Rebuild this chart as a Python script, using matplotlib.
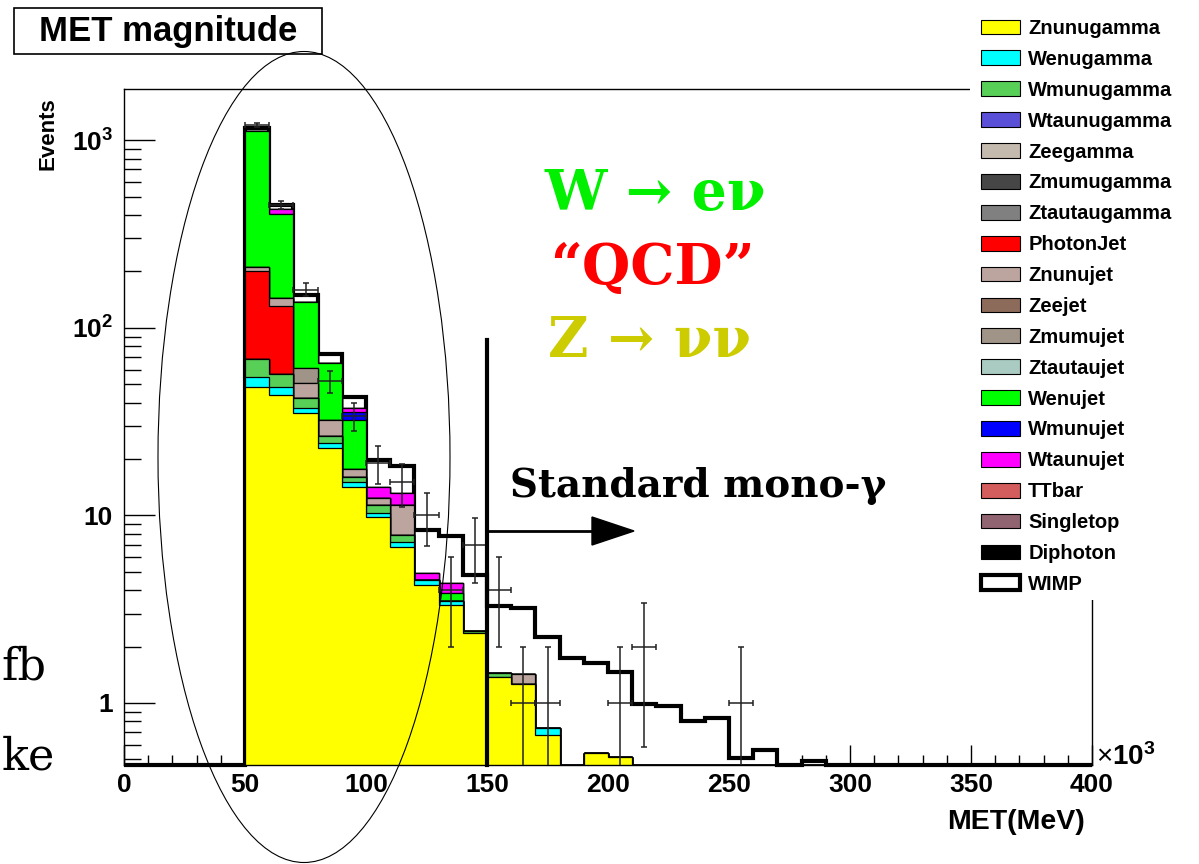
import numpy as np
import matplotlib.pyplot as plt
from matplotlib.patches import Patch, Rectangle, Ellipse, Polygon
from matplotlib.lines import Line2D
from matplotlib.ticker import MultipleLocator, LogLocator, FixedLocator, FixedFormatter, NullFormatter

plt.rcParams['mathtext.fontset'] = 'custom'
plt.rcParams['mathtext.rm'] = 'Liberation Sans:bold'
plt.rcParams['mathtext.it'] = 'Liberation Sans:bold'
plt.rcParams['mathtext.bf'] = 'Liberation Sans:bold'

W, H = 1199, 864

# MET bins in units of 10^3 MeV, 10 wide, values given from the 50-60 bin up to 290-300
bin_start = 50
bin_width = 10
x_max = 400

# stacked backgrounds (events per bin), bottom of the stack first
znunugamma = [48.6, 44.0, 35.1, 22.8, 14.2, 9.86, 6.82, 4.26, 3.33, 2.35, 1.38, 1.26, 0.675,
              0, 0.543, 0.517, 0, 0, 0, 0, 0, 0, 0, 0, 0]
wenugamma = [6.4, 4.6, 2.2, 1.5, 0.8, 0.44, 0.43, 0.27, 0.18, 0, 0, 0, 0.063,
             0, 0, 0, 0, 0, 0, 0, 0, 0, 0, 0, 0]
wmunugamma = [13.0, 7.9, 4.9, 2.2, 1.1, 1.1, 0.62, 0, 0, 0.08, 0.06, 0, 0,
              0, 0, 0, 0, 0, 0, 0, 0, 0, 0, 0, 0]
wtaunugamma = [0.0] * 25
zeegamma = [0.0] * 25
zmumugamma = [0.0] * 25
ztautaugamma = [0.0] * 25
photonjet = [132, 74.5, 0, 0, 0, 0, 0, 0, 0, 0, 0, 0, 0,
             0, 0, 0, 0, 0, 0, 0, 0, 0, 0, 0, 0]
znunujet = [11, 13, 8.5, 5.8, 1.7, 1.0, 3.5, 0, 0, 0, 0, 0.17, 0,
            0, 0, 0, 0, 0, 0, 0, 0, 0, 0, 0, 0]
zeejet = [0.0] * 25
zmumujet = [0, 0, 10.3, 0, 0, 0, 0, 0, 0, 0, 0, 0, 0,
            0, 0, 0, 0, 0, 0, 0, 0, 0, 0, 0, 0]
ztautaujet = [0.0] * 25
wenujet = [917, 261, 77, 32.7, 14.5, 0, 0, 0, 0.37, 0, 0, 0, 0,
           0, 0, 0, 0, 0, 0, 0, 0, 0, 0, 0, 0]
wmunujet = [0, 0, 0, 0, 3.5, 0, 0, 0, 0, 0, 0, 0, 0,
            0, 0, 0, 0, 0, 0, 0, 0, 0, 0, 0, 0]
wtaunujet = [0, 26, 0, 0, 1.5, 1.7, 1.8, 0.42, 0.47, 0, 0, 0, 0,
             0, 0, 0, 0, 0, 0, 0, 0, 0, 0, 0, 0]
ttbar = [0.0] * 25
singletop = [0.0] * 25
diphoton = [0.0] * 25
# signal, stacked on top
wimp = [37, 22, 12, 7.4, 5.7, 5.7, 5.2, 3.4, 3.4, 2.4, 1.85, 1.77, 1.52,
        1.73, 1.09, 0.95, 0.99, 0.96, 0.80, 0.83, 0.51, 0.56, 0, 0.49, 0]

# pseudo-data counts per bin (error = sqrt(n))
data = [1210, 453, 160, 52, 34, 19, 15, 10, 4, 7, 4, 1, 1,
        0, 0, 1, 2, 0, 0, 0, 1, 0, 0, 0, 0]

names = ['Znunugamma', 'Wenugamma', 'Wmunugamma', 'Wtaunugamma', 'Zeegamma', 'Zmumugamma',
         'Ztautaugamma', 'PhotonJet', 'Znunujet', 'Zeejet', 'Zmumujet', 'Ztautaujet',
         'Wenujet', 'Wmunujet', 'Wtaunujet', 'TTbar', 'Singletop', 'Diphoton', 'WIMP']
stack_values = [znunugamma, wenugamma, wmunugamma, wtaunugamma, zeegamma, zmumugamma,
                ztautaugamma, photonjet, znunujet, zeejet, zmumujet, ztautaujet,
                wenujet, wmunujet, wtaunujet, ttbar, singletop, diphoton, wimp]
colors = ['#ffff00', '#00ffff', '#58d058', '#5a50d8', '#c4baae', '#464646',
          '#808080', '#ff0000', '#bba59e', '#8c6b5b', '#a09488', '#a9cbc1',
          '#00ff00', '#0000ff', '#ff00ff', '#d35c5c', '#906470', '#000000', '#ffffff']


def fx(x):
    return x / W


def fy(y):
    return 1 - y / H


fig = plt.figure(figsize=(W / 100, H / 100), dpi=100)
ax = fig.add_axes([fx(124), fy(765), (1092 - 124) / W, (765 - 89) / H])
ax.set_yscale('log')
ymin, ymax = 0.467, 1880

edges = np.arange(0, x_max + bin_width, bin_width)
nb = len(edges) - 1
i0 = bin_start // bin_width


def full(v):
    out = np.zeros(nb)
    out[i0:i0 + len(v)] = v
    return out


layers = np.array([full(v) for v in stack_values])
tops = np.cumsum(layers, axis=0)

# ROOT-like stack: cumulative histograms drawn from the top one down
for k in range(len(names) - 1, -1, -1):
    is_sig = names[k] == 'WIMP'
    ax.stairs(np.maximum(tops[k], ymin), edges, baseline=ymin, fill=True,
              facecolor=colors[k], edgecolor='black',
              linewidth=3.0 if is_sig else 0.9, clip_on=not is_sig, zorder=2)

centers = edges[:-1] + bin_width / 2
n_all = full(data)
sel = n_all > 0
n = n_all[sel]
err = np.sqrt(n)
ax.errorbar(centers[sel], n, xerr=bin_width / 2, yerr=[err, err], fmt='none',
            ecolor='#222222', elinewidth=1.1, capsize=2.5, capthick=1.1, zorder=4)

ax.set_xlim(0, x_max)
ax.set_ylim(ymin, ymax)

tick_font = dict(family='Liberation Sans', weight='bold', size=19)
ax.xaxis.set_major_locator(MultipleLocator(50))
ax.xaxis.set_minor_locator(MultipleLocator(10))
ax.yaxis.set_major_locator(FixedLocator([1, 10, 100, 1000]))
ax.yaxis.set_major_formatter(FixedFormatter(['1', '10', '$10^{2}$', '$10^{3}$']))
ax.yaxis.set_minor_locator(LogLocator(base=10, subs=np.arange(2, 10)))
ax.yaxis.set_minor_formatter(NullFormatter())
for lab in ax.get_xticklabels() + ax.get_yticklabels():
    lab.set_fontproperties(tick_font)
ax.tick_params(which='both', direction='in', top=False, right=False, width=1.0, color='black')
ax.xaxis.set_tick_params(which='major', length=14.4, pad=6)
ax.xaxis.set_tick_params(which='minor', length=7.2)
ax.yaxis.set_tick_params(which='major', length=22, pad=8)
ax.yaxis.set_tick_params(which='minor', length=12)
for s in ax.spines.values():
    s.set_linewidth(1.0)

# white legend area covering the top right of the frame
fig.add_artist(Rectangle((fx(970), fy(600)), 1 - fx(970), 1 - fy(600), facecolor='white',
                         edgecolor='none', transform=fig.transFigure, zorder=3))
handles = []
for name, c in zip(names, colors):
    if name == 'WIMP':
        handles.append(Patch(facecolor='white', edgecolor='black', linewidth=3.0))
    else:
        handles.append(Patch(facecolor=c, edgecolor='black', linewidth=0.8))
leg = fig.legend(handles, names, loc='upper left', bbox_to_anchor=(fx(981), fy(19)),
                 frameon=False, prop=dict(family='Liberation Sans', weight='bold', size=14.5),
                 handlelength=1.94, handleheight=0.75, handletextpad=0.4,
                 labelspacing=0.59, borderpad=0, borderaxespad=0)
leg.set_zorder(5)

# title box
fig.add_artist(Rectangle((fx(14), fy(54)), (322 - 14) / W, 46 / H, facecolor='white',
                         edgecolor='black', linewidth=1.2, transform=fig.transFigure, zorder=3))
fig.text(fx(168), fy(31), 'MET magnitude', ha='center', va='center',
         family='Liberation Sans', weight='bold', size=25, zorder=4)

fig.text(fx(48), fy(97), 'Events', rotation=90, ha='center', va='top',
         family='Liberation Sans', weight='bold', size=16)
fig.text(fx(1085), fy(822), 'MET(MeV)', ha='right', va='center',
         family='Liberation Sans', weight='bold', size=20.5)
fig.text(fx(1096), fy(765), '\u00d7$10^{3}$', ha='left', va='baseline',
         family='Liberation Sans', size=20)

# slide annotations
serif_b = dict(family='DejaVu Serif', weight='bold')
fig.text(fx(545), fy(210), 'W \u2192 e\u03bd', color='#00f000', size=40, va='baseline', **serif_b)
fig.text(fx(550), fy(284), '\u201cQCD\u201d', color='#ff0000', size=40, va='baseline', **serif_b)
fig.text(fx(548), fy(357), 'Z \u2192 \u03bd\u03bd', color='#cccc00', size=40, va='baseline', **serif_b)
fig.text(fx(510), fy(497), 'Standard mono-\u03b3', color='black', size=28, va='baseline', **serif_b)

fig.add_artist(Line2D([fx(487), fx(487)], [fy(340), fy(765)], color='black', lw=3,
                      transform=fig.transFigure, zorder=6))
fig.add_artist(Line2D([fx(487), fx(596)], [fy(531), fy(531)], color='black', lw=2,
                      transform=fig.transFigure, zorder=6))
fig.add_artist(Polygon([[fx(592), fy(517)], [fx(634), fy(531)], [fx(592), fy(545)]], closed=True,
                       facecolor='black', edgecolor='black', transform=fig.transFigure, zorder=6))
fig.add_artist(Ellipse((fx(304), fy(457)), 292 / W, 811 / H, facecolor='none', edgecolor='black',
                       linewidth=0.8, transform=fig.transFigure, zorder=6))

fig.text(fx(1), fy(679), 'fb', ha='left', va='baseline', family='DejaVu Serif', size=32)
fig.text(fx(2), fy(770), 'ke', ha='left', va='baseline', family='DejaVu Serif', size=32)

fig.savefig('out.png', dpi=100)
